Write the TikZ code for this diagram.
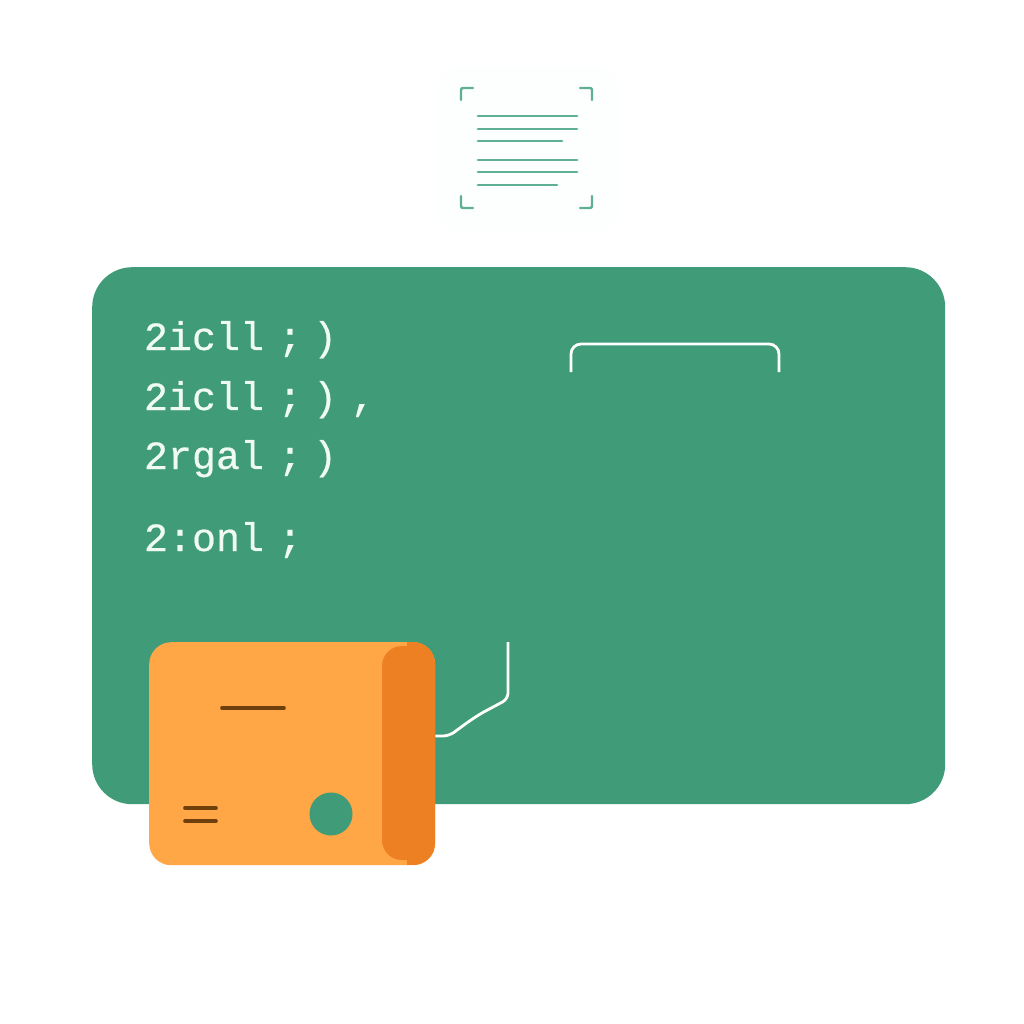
\documentclass[tikz,border=0pt]{standalone}
\usepackage{fontspec}
\newfontfamily\codefont[FakeBold=0.5]{Liberation Mono}
\definecolor{panelgreen}{HTML}{3F9B78}
\definecolor{boxorange}{HTML}{FFA647}
\definecolor{banddark}{HTML}{EE8024}
\definecolor{markbrown}{HTML}{6F3F0C}
\definecolor{icongreen}{HTML}{5FAE96}
\definecolor{textwhite}{HTML}{F0FAF5}
\definecolor{halo}{HTML}{FDFEFE}
\tikzset{
  x=1pt,y=-1pt,
  codeline/.style={anchor=base west,inner sep=0pt,outer sep=0pt,text=textwhite,font=\codefont\fontsize{40}{40}\selectfont},
  iconline/.style={draw=icongreen,line width=2.8pt,line cap=round},
  iconbracket/.style={draw=icongreen,line width=2.4pt,line cap=round,rounded corners=2pt},
  brownmark/.style={draw=markbrown,line width=3.6pt,line cap=round},
  wire/.style={draw=white,line width=2.8pt,rounded corners=6pt}
}
\newcommand{\codetext}[3]{#1\hspace{#2pt};\hspace{#3pt})}
\begin{document}
\begin{tikzpicture}
\useasboundingbox (0,0) rectangle (1024,1024);
\fill[white] (0,0) rectangle (1024,1024);
% icon halo
\fill[halo,rounded corners=20pt] (438,68) rectangle (618,232);
% icon
\draw[iconbracket] (461,100) -- (461,88) -- (473,88);
\draw[iconbracket] (580,88) -- (592,88) -- (592,100);
\draw[iconbracket] (461,196) -- (461,208) -- (473,208);
\draw[iconbracket] (580,208) -- (592,208) -- (592,196);
\draw[iconline] (478,116) -- (577,116);
\draw[iconline] (478,129) -- (577,129);
\draw[iconline] (478,141) -- (562,141);
\draw[iconline] (478,160) -- (577,160);
\draw[iconline] (478,172) -- (577,172);
\draw[iconline] (478,185) -- (557,185);
% panel
\node[fill=panelgreen,rounded corners=40pt,minimum width=853pt,minimum height=537pt,inner sep=0pt,anchor=north west] (panel) at (92,267) {};
% code text
\node[codeline] (l1) at (144,350) {\codetext{2icll}{14}{11}};
\node[codeline] (l2) at (144,410) {\codetext{2icll}{14}{11}\hspace{14pt},};
\node[codeline] (l3) at (144,469) {\codetext{2rgal}{14}{11}};
\node[codeline] (l4) at (144,551) {2:onl\hspace{14pt};};
% bracket
\draw[draw=white,line width=2.8pt,rounded corners=10pt] (571,372) -- (571,344) -- (779,344) -- (779,372);
% orange box
\node[fill=boxorange,rounded corners=22pt,minimum width=286pt,minimum height=223pt,inner sep=0pt,anchor=north west] (box) at (149,642) {};
\coordinate (wireend) at (508,642);
\coordinate (wirebend) at (508,699);
\begin{scope}
\clip[rounded corners=22pt] (149,642) rectangle (435,865);
\fill[banddark,rounded corners=20pt] (382,646) rectangle (470,860);
\fill[banddark] (407,642) rectangle (435,865);
\end{scope}
\draw[brownmark] (222,708) -- (284,708);
\draw[brownmark] (185,808) -- (216,808);
\draw[brownmark] (185,821) -- (216,821);
\fill[panelgreen] (331,814) circle (21.5);
% wire
\draw[wire] (box.east |- 0,736) -- (449,736) -- (468,722) -- (480,714) -- (wirebend) -- (wireend);
\end{tikzpicture}
\end{document}
